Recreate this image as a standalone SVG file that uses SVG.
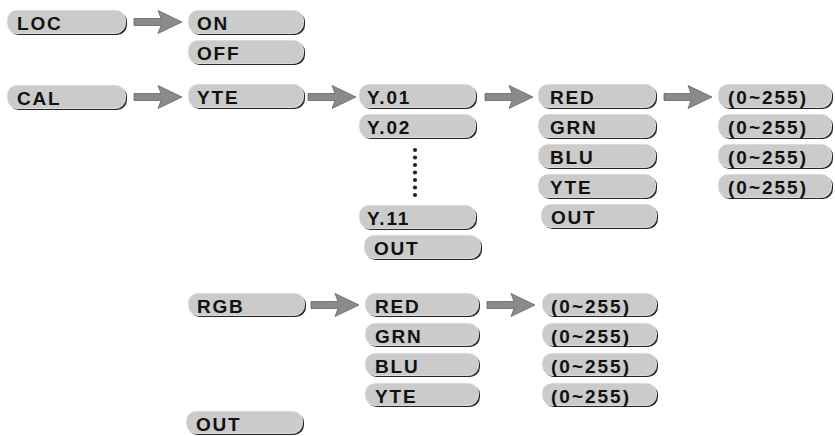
<svg xmlns="http://www.w3.org/2000/svg" xmlns:xlink="http://www.w3.org/1999/xlink" width="835" height="436" viewBox="0 0 835 436">
<style>
.sh{fill:#262626}
.bx{fill:#cbcbcb;stroke:#f4f4f4;stroke-width:0.8}
.t{font-family:"Liberation Sans",Arial,sans-serif;font-weight:bold;font-size:19px;letter-spacing:1.8px;fill:#111}
.v{letter-spacing:2px}
.ar{fill:#8a8a8a;stroke:#5a5a5a;stroke-width:0.7}
.dot{fill:#222}
</style>
<defs>
<path id="arw" d="M0,-3.5 H27 L24,-11.5 L48,0 L24,11.5 L27,3.5 H0 Z"/>
</defs>
<rect width="835" height="436" fill="#fff"/>
<g id="connectors">
<use xlink:href="#arw" class="ar" transform="translate(134,22)"/>
<use xlink:href="#arw" class="ar" transform="translate(134,97)"/>
<use xlink:href="#arw" class="ar" transform="translate(308,97)"/>
<use xlink:href="#arw" class="ar" transform="translate(485,97)"/>
<use xlink:href="#arw" class="ar" transform="translate(664,97)"/>
<use xlink:href="#arw" class="ar" transform="translate(311,305)"/>
<use xlink:href="#arw" class="ar" transform="translate(487,305)"/>
<g id="ellipsis">
<circle class="dot" cx="415" cy="150" r="2.1"/>
<circle class="dot" cx="415" cy="157.5" r="2.1"/>
<circle class="dot" cx="415" cy="165" r="2.1"/>
<circle class="dot" cx="415" cy="172.5" r="2.1"/>
<circle class="dot" cx="415" cy="180" r="2.1"/>
<circle class="dot" cx="415" cy="187.5" r="2.1"/>
<circle class="dot" cx="415" cy="195" r="2.1"/>
</g>
</g>
<g id="loc"><rect class="sh" x="8.5" y="11.5" width="118.5" height="23.5" rx="10"/><rect class="bx" x="7" y="10" width="118.5" height="23.5" rx="10"/><text class="t" x="17" y="30">LOC</text></g>
<g id="on"><rect class="sh" x="189.5" y="11.5" width="115.5" height="23.5" rx="10"/><rect class="bx" x="188" y="10" width="115.5" height="23.5" rx="10"/><text class="t" x="197" y="30">ON</text></g>
<g id="off"><rect class="sh" x="189.5" y="41.5" width="115.5" height="23.5" rx="10"/><rect class="bx" x="188" y="40" width="115.5" height="23.5" rx="10"/><text class="t" x="197" y="60">OFF</text></g>
<g id="cal"><rect class="sh" x="8.5" y="86.5" width="118.5" height="23.5" rx="10"/><rect class="bx" x="7" y="85" width="118.5" height="23.5" rx="10"/><text class="t" x="17" y="105">CAL</text></g>
<g id="cal-yte"><rect class="sh" x="189.5" y="85.5" width="115.5" height="23.5" rx="10"/><rect class="bx" x="188" y="84" width="115.5" height="23.5" rx="10"/><text class="t" x="197" y="104">YTE</text></g>
<g id="y01"><rect class="sh" x="360.5" y="85.5" width="116.5" height="23.5" rx="10"/><rect class="bx" x="359" y="84" width="116.5" height="23.5" rx="10"/><text class="t" x="367" y="104">Y.01</text></g>
<g id="y02"><rect class="sh" x="360.5" y="115.5" width="116.5" height="23.5" rx="10"/><rect class="bx" x="359" y="114" width="116.5" height="23.5" rx="10"/><text class="t" x="367" y="134">Y.02</text></g>
<g id="y11"><rect class="sh" x="360.5" y="206.5" width="116.5" height="23.5" rx="10"/><rect class="bx" x="359" y="205" width="116.5" height="23.5" rx="10"/><text class="t" x="367" y="225">Y.11</text></g>
<g id="yte-out"><rect class="sh" x="365.5" y="236.5" width="116.5" height="23.5" rx="10"/><rect class="bx" x="364" y="235" width="116.5" height="23.5" rx="10"/><text class="t" x="374" y="255">OUT</text></g>
<g id="y-red"><rect class="sh" x="539.5" y="85.5" width="117.5" height="23.5" rx="10"/><rect class="bx" x="538" y="84" width="117.5" height="23.5" rx="10"/><text class="t" x="550" y="104">RED</text></g>
<g id="y-grn"><rect class="sh" x="539.5" y="115.5" width="117.5" height="23.5" rx="10"/><rect class="bx" x="538" y="114" width="117.5" height="23.5" rx="10"/><text class="t" x="550" y="134">GRN</text></g>
<g id="y-blu"><rect class="sh" x="539.5" y="145.5" width="117.5" height="23.5" rx="10"/><rect class="bx" x="538" y="144" width="117.5" height="23.5" rx="10"/><text class="t" x="550" y="164">BLU</text></g>
<g id="y-yte"><rect class="sh" x="539.5" y="175.5" width="117.5" height="23.5" rx="10"/><rect class="bx" x="538" y="174" width="117.5" height="23.5" rx="10"/><text class="t" x="550" y="194">YTE</text></g>
<g id="y-out"><rect class="sh" x="542.5" y="205.5" width="115.5" height="23.5" rx="10"/><rect class="bx" x="541" y="204" width="115.5" height="23.5" rx="10"/><text class="t" x="551" y="224">OUT</text></g>
<g id="y-val1"><rect class="sh" x="719.5" y="85.5" width="113.5" height="23.5" rx="10"/><rect class="bx" x="718" y="84" width="113.5" height="23.5" rx="10"/><text class="t v" x="728" y="104">(0~255)</text></g>
<g id="y-val2"><rect class="sh" x="719.5" y="115.5" width="113.5" height="23.5" rx="10"/><rect class="bx" x="718" y="114" width="113.5" height="23.5" rx="10"/><text class="t v" x="728" y="134">(0~255)</text></g>
<g id="y-val3"><rect class="sh" x="719.5" y="145.5" width="113.5" height="23.5" rx="10"/><rect class="bx" x="718" y="144" width="113.5" height="23.5" rx="10"/><text class="t v" x="728" y="164">(0~255)</text></g>
<g id="y-val4"><rect class="sh" x="719.5" y="175.5" width="113.5" height="23.5" rx="10"/><rect class="bx" x="718" y="174" width="113.5" height="23.5" rx="10"/><text class="t v" x="728" y="194">(0~255)</text></g>
<g id="rgb"><rect class="sh" x="189.5" y="294.5" width="116.5" height="22.5" rx="10"/><rect class="bx" x="188" y="293" width="116.5" height="22.5" rx="10"/><text class="t" x="197" y="312.5">RGB</text></g>
<g id="rgb-red"><rect class="sh" x="366.5" y="294.5" width="113.5" height="22.5" rx="10"/><rect class="bx" x="365" y="293" width="113.5" height="22.5" rx="10"/><text class="t" x="375" y="312.5">RED</text></g>
<g id="rgb-grn"><rect class="sh" x="366.5" y="324.5" width="113.5" height="22.5" rx="10"/><rect class="bx" x="365" y="323" width="113.5" height="22.5" rx="10"/><text class="t" x="375" y="342.5">GRN</text></g>
<g id="rgb-blu"><rect class="sh" x="366.5" y="354.5" width="113.5" height="22.5" rx="10"/><rect class="bx" x="365" y="353" width="113.5" height="22.5" rx="10"/><text class="t" x="375" y="372.5">BLU</text></g>
<g id="rgb-yte"><rect class="sh" x="366.5" y="384.5" width="113.5" height="22.5" rx="10"/><rect class="bx" x="365" y="383" width="113.5" height="22.5" rx="10"/><text class="t" x="375" y="402.5">YTE</text></g>
<g id="rgb-val1"><rect class="sh" x="543.5" y="294.5" width="114.5" height="22.5" rx="10"/><rect class="bx" x="542" y="293" width="114.5" height="22.5" rx="10"/><text class="t v" x="551" y="312.5">(0~255)</text></g>
<g id="rgb-val2"><rect class="sh" x="543.5" y="324.5" width="114.5" height="22.5" rx="10"/><rect class="bx" x="542" y="323" width="114.5" height="22.5" rx="10"/><text class="t v" x="551" y="342.5">(0~255)</text></g>
<g id="rgb-val3"><rect class="sh" x="543.5" y="354.5" width="114.5" height="22.5" rx="10"/><rect class="bx" x="542" y="353" width="114.5" height="22.5" rx="10"/><text class="t v" x="551" y="372.5">(0~255)</text></g>
<g id="rgb-val4"><rect class="sh" x="543.5" y="384.5" width="114.5" height="22.5" rx="10"/><rect class="bx" x="542" y="383" width="114.5" height="22.5" rx="10"/><text class="t v" x="551" y="402.5">(0~255)</text></g>
<g id="out"><rect class="sh" x="187.5" y="412.5" width="116.5" height="22.5" rx="10"/><rect class="bx" x="186" y="411" width="116.5" height="22.5" rx="10"/><text class="t" x="196" y="430.5">OUT</text></g>
</svg>
